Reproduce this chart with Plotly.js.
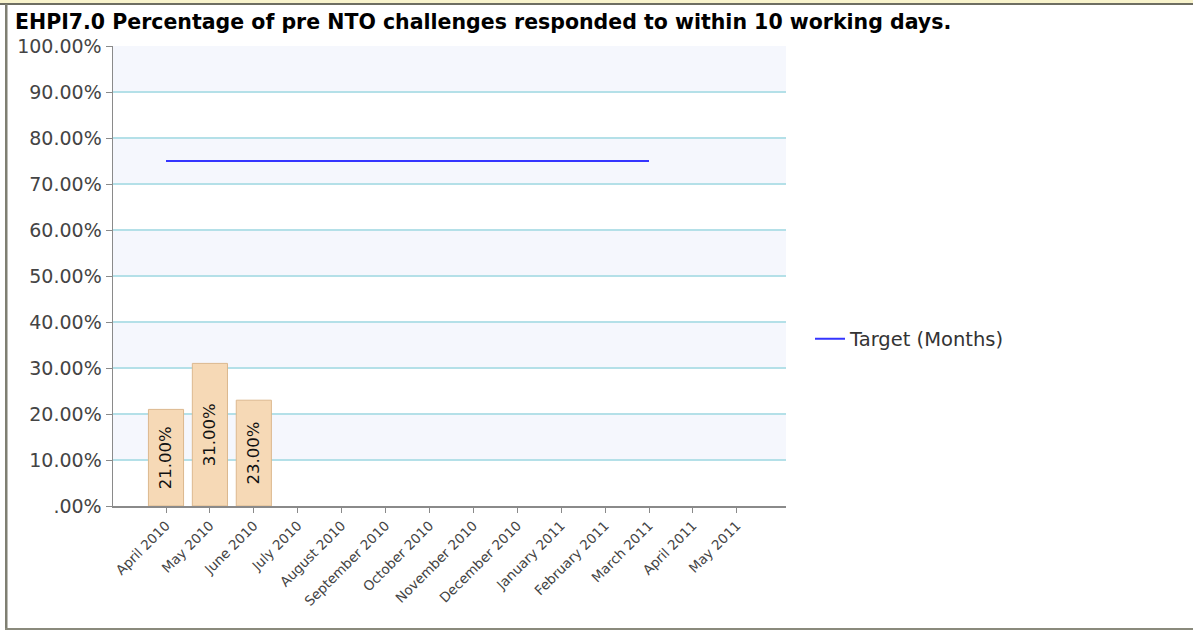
<!DOCTYPE html>
<html>
<head>
<meta charset="utf-8">
<script src="https://cdn.plot.ly/plotly-3.0.1.min.js"></script>
<style>
  html, body { margin: 0; padding: 0; background: #ffffff; }
  #chart { width: 1193px; height: 631px; }
</style>
</head>
<body>
<div id="chart"></div>
<script>
// ---- data ----
const months = ["April 2010", "May 2010", "June 2010", "July 2010", "August 2010",
  "September 2010", "October 2010", "November 2010", "December 2010", "January 2011",
  "February 2011", "March 2011", "April 2011", "May 2011"];
const actualValues = [21, 31, 23, null, null, null, null, null, null, null, null, null, null, null];
const targetValues = [75, 75, 75, 75, 75, 75, 75, 75, 75, 75, 75, 75, null, null];
const yTickValues = [0, 10, 20, 30, 40, 50, 60, 70, 80, 90, 100];
const yTickLabels = [".00%", "10.00%", "20.00%", "30.00%", "40.00%", "50.00%", "60.00%",
  "70.00%", "80.00%", "90.00%", "100.00%"];
const barLabels = actualValues.map(v => v == null ? "" : v.toFixed(2) + "%");
const titleText = "EHPI7.0 Percentage of pre NTO challenges responded to within 10 working days.";
const legendName = "Target (Months)";

// ---- geometry helpers ----
const W = 1193, H = 631;
const L = 113, R = 786, T = 46, B = 506;
const px = x => (x - L) / (R - L);
const py = y => (B - y) / (B - T);

const FONT = "DejaVu Sans, Verdana, sans-serif";

const shapes = [];
// alternating bands
for (let v = 10; v < 100; v += 20) {
  shapes.push({type: "rect", xref: "paper", yref: "y", x0: 0, x1: 1, y0: v, y1: v + 10,
    fillcolor: "#f5f7fd", line: {width: 0}, layer: "below"});
}
// frame decorations
shapes.push({type: "rect", xref: "paper", yref: "paper", x0: px(-2), x1: px(W + 2), y0: py(-2), y1: py(3),
  fillcolor: "#f8f3cc", line: {width: 0}});
shapes.push({type: "rect", xref: "paper", yref: "paper", x0: px(-2), x1: px(W + 2), y0: py(3), y1: py(5),
  fillcolor: "#6e6e62", line: {width: 0}});
shapes.push({type: "rect", xref: "paper", yref: "paper", x0: px(5), x1: px(7.5), y0: py(4), y1: py(630),
  fillcolor: "#7f7f72", line: {width: 0}});
shapes.push({type: "rect", xref: "paper", yref: "paper", x0: px(5), x1: px(W + 2), y0: py(628), y1: py(630),
  fillcolor: "#8a8a7c", line: {width: 0}});

const traces = [
  {
    type: "bar", x: months, y: actualValues, width: 0.8,
    marker: {color: "#f6d9b6", line: {color: "#dcb88e", width: 1}},
    text: barLabels, textposition: "inside", insidetextanchor: "middle", textangle: -90,
    textfont: {family: FONT, size: 16.5, color: "#111111"},
    showlegend: false, hoverinfo: "skip", cliponaxis: false
  },
  {
    type: "scatter", mode: "lines", x: months, y: targetValues, name: legendName,
    line: {color: "#3535ff", width: 2}, connectgaps: false
  }
];

const layout = {
  width: W, height: H, autosize: false,
  margin: {l: L, r: W - R, t: T, b: H - B, pad: 0},
  paper_bgcolor: "rgba(0,0,0,0)", plot_bgcolor: "#ffffff",
  title: {text: "<b>" + titleText + "</b>", xref: "container", x: 15 / W, xanchor: "left",
    yref: "container", y: 1 - 22 / H, yanchor: "middle",
    font: {family: FONT, size: 20.5, color: "#000000"}},
  xaxis: {
    type: "category", range: [-1.207, 14.12], fixedrange: true,
    tickangle: -45, ticks: "outside", ticklen: 5, tickcolor: "#8a8a8a",
    showline: true, linecolor: "#8a8a8a", linewidth: 1.5, showgrid: false, zeroline: false,
    tickfont: {family: FONT, size: 13.5, color: "#444444"}
  },
  yaxis: {
    range: [0, 100], fixedrange: true, tickmode: "array", tickvals: yTickValues, ticktext: yTickLabels,
    ticks: "outside", ticklen: 6, tickcolor: "#8a8a8a",
    showline: true, linecolor: "#8a8a8a", linewidth: 1.5,
    showgrid: true, gridcolor: "#b4e0e8", gridwidth: 1.5, zeroline: false,
    tickfont: {family: FONT, size: 19, color: "#444444"}
  },
  legend: {x: px(810), xanchor: "left", y: py(339), yanchor: "middle",
    bgcolor: "rgba(0,0,0,0)", font: {family: FONT, size: 19.5, color: "#333333"}},
  shapes: shapes,
  bargap: 0.2
};

Plotly.newPlot("chart", traces, layout, {displayModeBar: false, staticPlot: true});
</script>
</body>
</html>
